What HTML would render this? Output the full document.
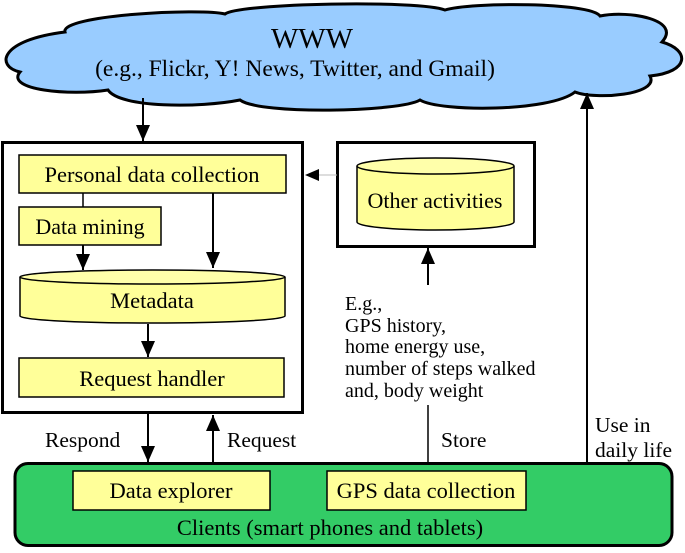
<!DOCTYPE html>
<html><head><meta charset="utf-8"><style>
body{margin:0;background:#fff}
svg{display:block}
text{font-family:"Liberation Serif",serif;fill:#000}
</style></head><body>
<svg width="685" height="553" viewBox="0 0 685 553" xmlns="http://www.w3.org/2000/svg">
<defs>
<marker id="ah" markerWidth="16" markerHeight="14" refX="16" refY="7" orient="auto" markerUnits="userSpaceOnUse">
<path d="M0,0 L16,7 L0,14 Z" fill="#000"/></marker>
</defs>
<path d="M65,32 C60,15 200,8 225,14 C240,3 420,0 445,10 C470,2 590,2 600,16 C630,10 682,20 662,42 C690,50 690,72 650,76 C660,95 595,100 575,92 C550,112 440,112 420,100 C400,112 260,115 240,100 C200,108 120,108 108,90 C70,96 5,90 20,72 C-5,66 0,40 65,32 Z" fill="#99ccff" stroke="#000" stroke-width="3"/>
<text x="312" y="48" font-size="29" text-anchor="middle">WWW</text>
<text x="295" y="76" font-size="23.5" text-anchor="middle">(e.g., Flickr, Y! News, Twitter, and Gmail)</text>

<line x1="143" y1="98" x2="143" y2="141" stroke="#000" stroke-width="2" marker-end="url(#ah)"/>
<rect x="2.5" y="142.5" width="300" height="270" fill="none" stroke="#000" stroke-width="3"/>
<rect x="19" y="155" width="267" height="38" fill="#ffff99" stroke="#000" stroke-width="1.5"/>
<text x="152" y="182" font-size="22.5" text-anchor="middle">Personal data collection</text>
<line x1="83" y1="193" x2="83" y2="207" stroke="#000" stroke-width="1.5"/>
<rect x="19" y="207" width="142" height="38" fill="#ffff99" stroke="#000" stroke-width="1.5"/>
<text x="90" y="234" font-size="22" text-anchor="middle">Data mining</text>
<line x1="83" y1="245" x2="83" y2="270" stroke="#000" stroke-width="2" marker-end="url(#ah)"/>
<line x1="213" y1="193" x2="213" y2="268" stroke="#000" stroke-width="2" marker-end="url(#ah)"/>
<path d="M20,277 L20,316 A132,7 0 0 0 285,316 L285,277" fill="#ffff99" stroke="#000" stroke-width="1.5"/>
<ellipse cx="152.5" cy="277" rx="132.5" ry="7" fill="#ffffaa" stroke="#000" stroke-width="1.5"/>
<text x="152" y="308" font-size="22.5" text-anchor="middle">Metadata</text>
<line x1="148" y1="324" x2="148" y2="357" stroke="#000" stroke-width="2" marker-end="url(#ah)"/>
<rect x="19" y="358" width="265" height="39" fill="#ffff99" stroke="#000" stroke-width="1.5"/>
<text x="152" y="386" font-size="22.5" text-anchor="middle">Request handler</text>

<rect x="337.5" y="142.5" width="197" height="104" fill="none" stroke="#000" stroke-width="3"/>
<line x1="337" y1="175" x2="306" y2="175" stroke="#bbb" stroke-width="1" />
<path d="M305,175 L319,169 L319,181 Z" fill="#000"/>
<path d="M357,166 L357,222 A78.5,8 0 0 0 514,222 L514,166" fill="#ffff99" stroke="#000" stroke-width="1.5"/>
<ellipse cx="435.5" cy="166" rx="78.5" ry="8" fill="#ffffaa" stroke="#000" stroke-width="1.5"/>
<text x="435" y="208" font-size="22" text-anchor="middle">Other activities</text>
<line x1="428" y1="285" x2="428" y2="248" stroke="#000" stroke-width="2" marker-end="url(#ah)"/>
<g font-size="20">
<text x="345" y="310">E.g.,</text>
<text x="345" y="332">GPS history,</text>
<text x="345" y="353">home energy use,</text>
<text x="345" y="375">number of steps walked</text>
<text x="345" y="397">and, body weight</text>
</g>
<line x1="428" y1="405" x2="428" y2="463" stroke="#000" stroke-width="1.5"/>
<line x1="587" y1="463" x2="587" y2="93" stroke="#000" stroke-width="2" marker-end="url(#ah)"/>

<line x1="148" y1="414" x2="148" y2="462" stroke="#000" stroke-width="2" marker-end="url(#ah)"/>
<line x1="213" y1="463" x2="213" y2="415" stroke="#000" stroke-width="2" marker-end="url(#ah)"/>
<g font-size="21.5">
<text x="45" y="447">Respond</text>
<text x="227" y="447">Request</text>
<text x="441" y="447">Store</text>
<text x="595" y="432">Use in</text>
<text x="595" y="457">daily life</text>
</g>

<rect x="15" y="463.5" width="657" height="82" rx="13" fill="#33cc66" stroke="#000" stroke-width="3"/>
<rect x="73" y="471" width="197" height="39" fill="#ffff99" stroke="#000" stroke-width="1.5"/>
<text x="171" y="498" font-size="22.5" text-anchor="middle">Data explorer</text>
<rect x="327" y="471" width="199" height="39" fill="#ffff99" stroke="#000" stroke-width="1.5"/>
<text x="426" y="498" font-size="22.5" text-anchor="middle">GPS data collection</text>
<text x="330" y="535" font-size="22.5" text-anchor="middle">Clients (smart phones and tablets)</text>
</svg>
</body></html>
